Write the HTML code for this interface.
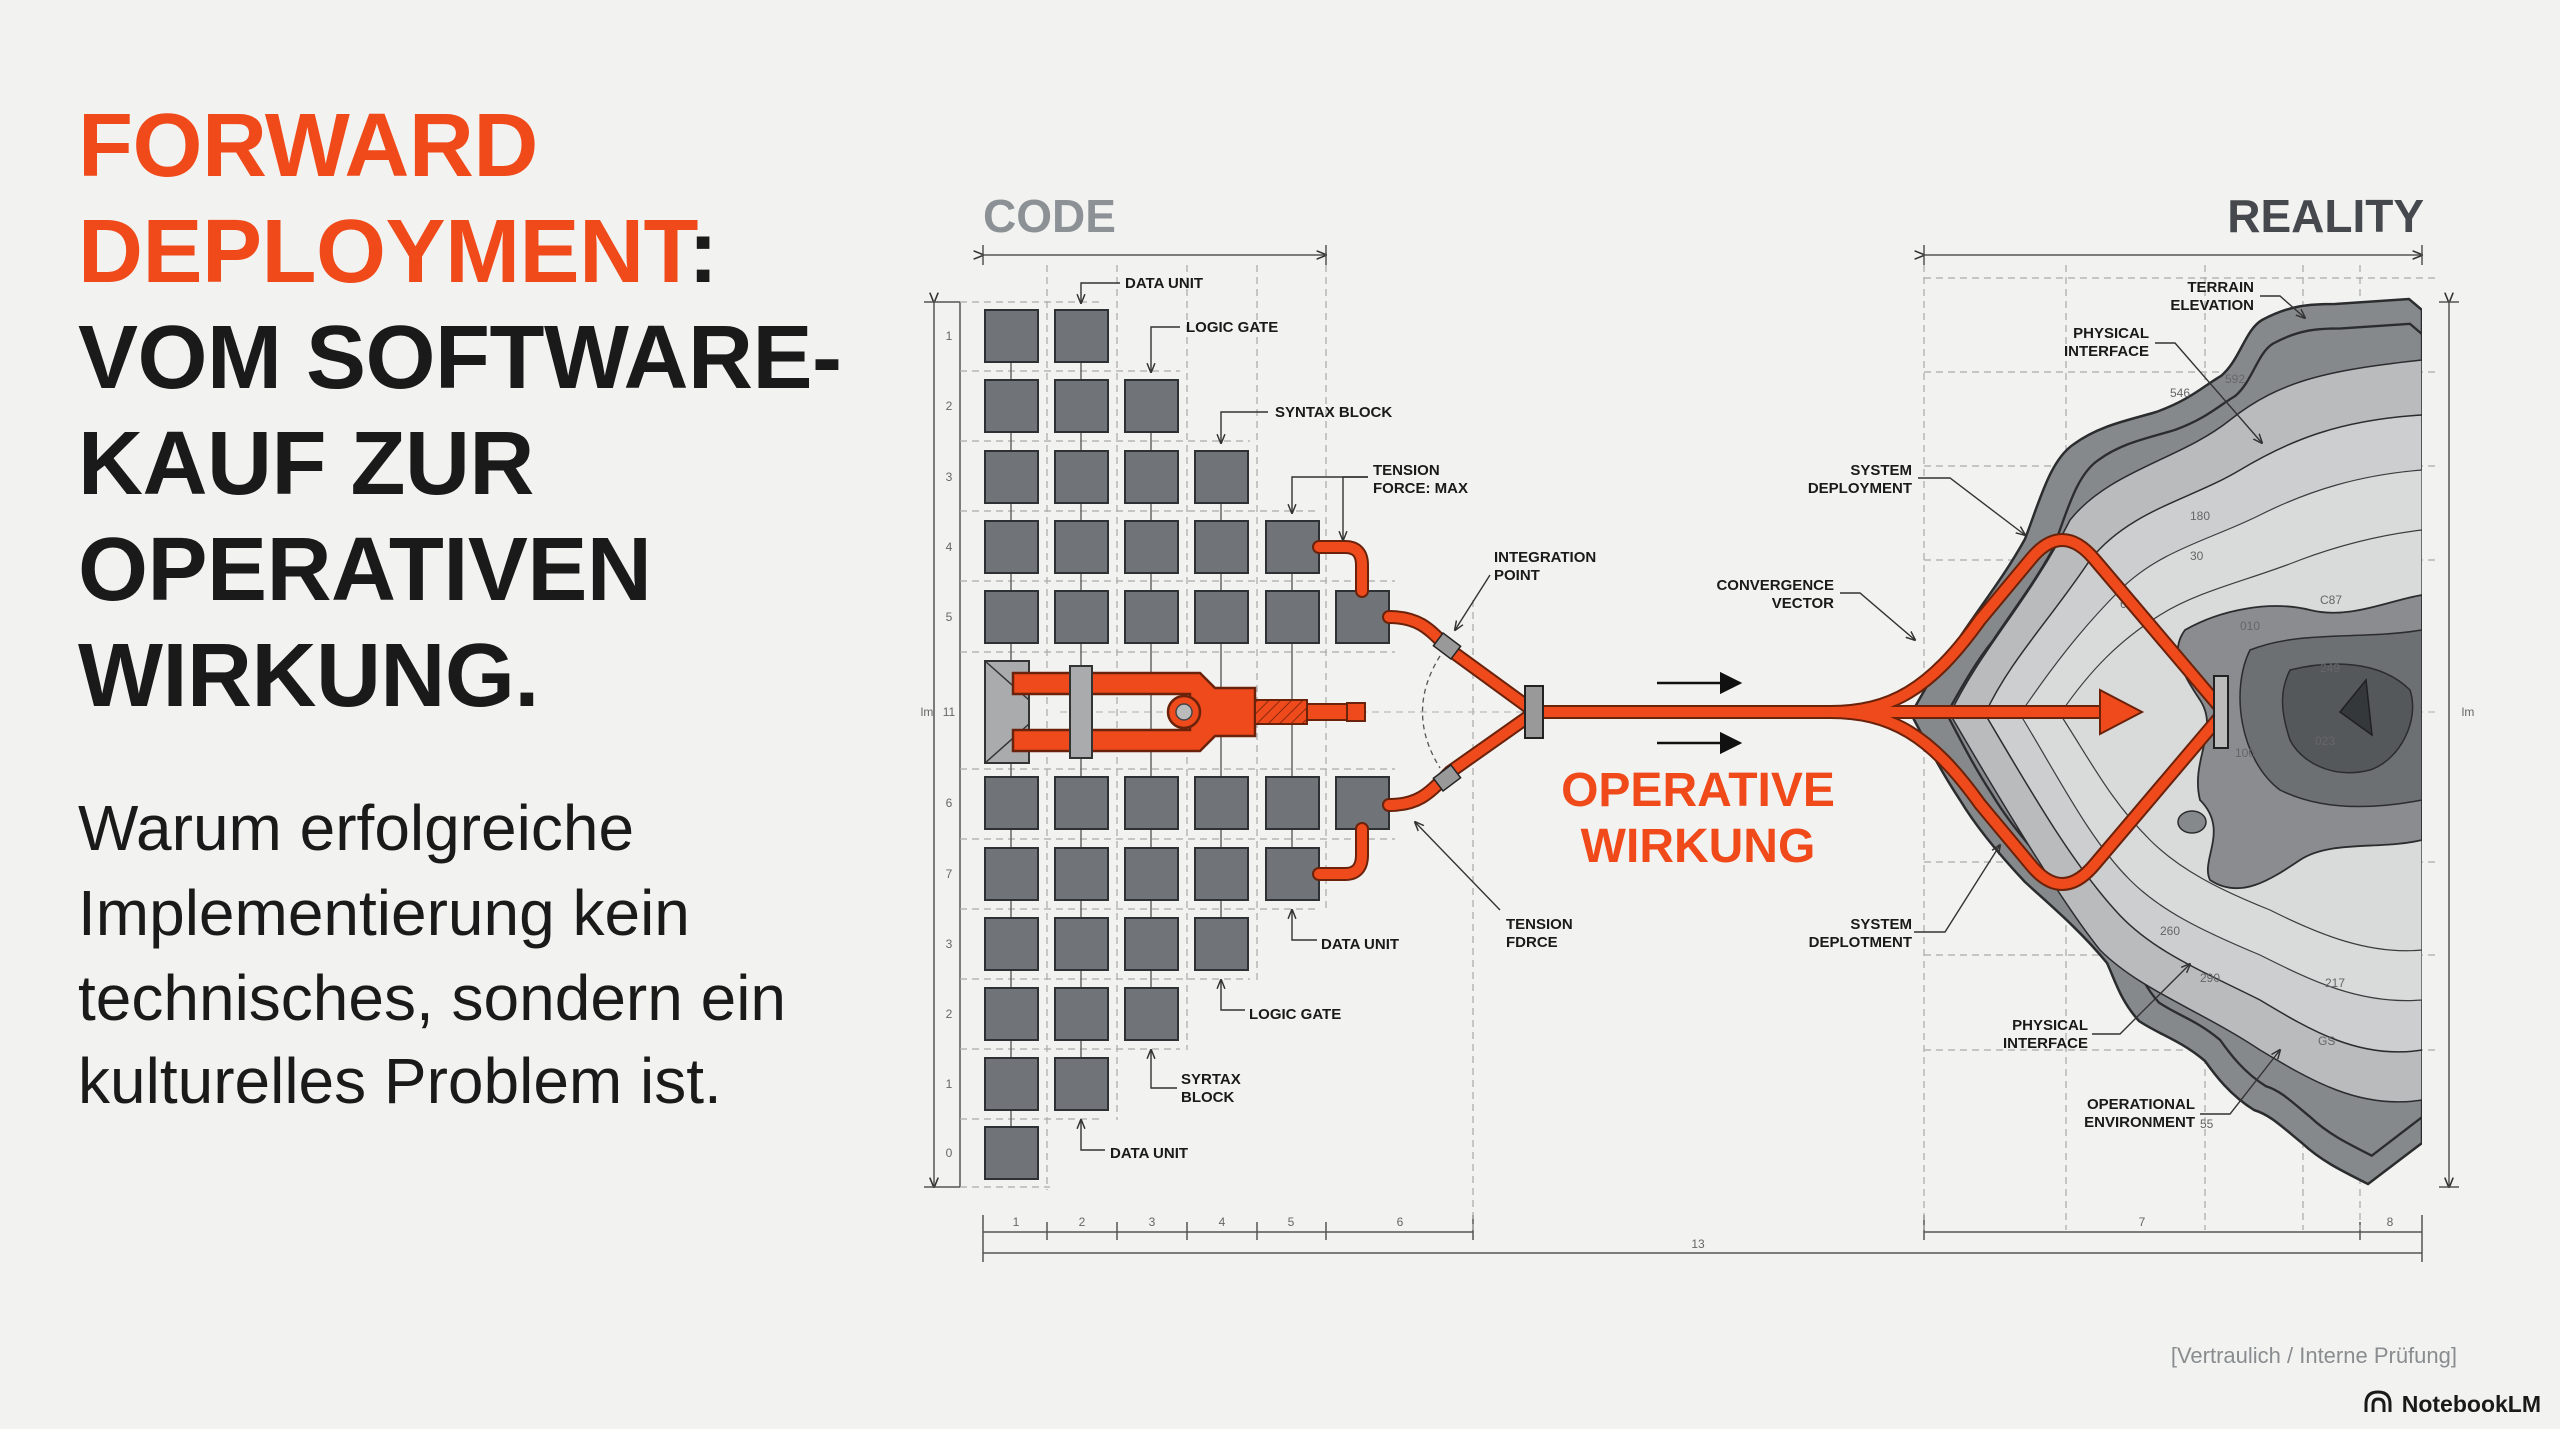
<!DOCTYPE html>
<html><head><meta charset="utf-8"><style>
html,body{margin:0;padding:0;background:#f2f2f1;}
svg{display:block}
.t{font-family:"Liberation Sans",sans-serif;font-weight:bold;}
.lb{font-family:"Liberation Sans",sans-serif;font-weight:bold;font-size:15px;fill:#1a1a1a;}
.sm{font-family:"Liberation Sans",sans-serif;font-size:12px;fill:#666;}
</style></head><body>
<svg width="2560" height="1429" viewBox="0 0 2560 1429" xmlns="http://www.w3.org/2000/svg">
<defs>
<marker id="ah" viewBox="0 0 10 10" refX="9" refY="5" markerWidth="7" markerHeight="7" orient="auto"><path d="M0,1 L10,5 L0,9" fill="none" stroke="#333" stroke-width="1.5"/></marker>
<marker id="bh" viewBox="0 0 10 10" refX="9" refY="5" markerWidth="9" markerHeight="9" orient="auto"><path d="M0,0 L10,5 L0,10 z" fill="#111"/></marker>
<clipPath id="tc"><rect x="1800" y="250" width="622" height="1000"/></clipPath>
<pattern id="hatch" width="8" height="8" patternUnits="userSpaceOnUse" patternTransform="rotate(45)"><rect width="8" height="8" fill="#ee4a1c"/><line x1="0" y1="0" x2="0" y2="8" stroke="#8a2a0c" stroke-width="2"/></pattern>
</defs>
<rect width="2560" height="1429" fill="#f2f2f1"/>

<!-- Title -->
<g class="t" font-size="90" letter-spacing="-0.5">
<text x="78" y="176" fill="#f04a1a">FORWARD</text>
<text x="78" y="282" fill="#f04a1a">DEPLOYMENT<tspan fill="#1a1a1a">:</tspan></text>
<text x="78" y="388" fill="#1a1a1a">VOM SOFTWARE-</text>
<text x="78" y="494" fill="#1a1a1a">KAUF ZUR</text>
<text x="78" y="600" fill="#1a1a1a">OPERATIVEN</text>
<text x="78" y="706" fill="#1a1a1a">WIRKUNG.</text>
</g>
<g font-family="Liberation Sans, sans-serif" font-size="64" fill="#1a1a1a">
<text x="78" y="850">Warum erfolgreiche</text>
<text x="78" y="935">Implementierung kein</text>
<text x="78" y="1020">technisches, sondern ein</text>
<text x="78" y="1103">kulturelles Problem ist.</text>
</g>

<!-- Headers -->
<text x="983" y="232" class="t" font-size="46" fill="#8c9196">CODE</text>
<text x="2424" y="232" class="t" font-size="46" fill="#45494d" text-anchor="end">REALITY</text>

<!-- dimension lines -->
<g stroke="#555" stroke-width="1.5" fill="none">
<line x1="983" y1="255" x2="1326" y2="255" marker-end="url(#ah)" marker-start="url(#ah)"/>
<line x1="983" y1="245" x2="983" y2="265"/><line x1="1326" y1="245" x2="1326" y2="265"/>
<line x1="1924" y1="255" x2="2422" y2="255" marker-end="url(#ah)" marker-start="url(#ah)"/>
<line x1="1924" y1="245" x2="1924" y2="265"/><line x1="2422" y1="245" x2="2422" y2="265"/>
<line x1="934" y1="302" x2="934" y2="1187" marker-end="url(#ah)" marker-start="url(#ah)"/>
<line x1="924" y1="302" x2="960" y2="302"/><line x1="924" y1="1187" x2="960" y2="1187"/>
<line x1="960" y1="302" x2="960" y2="1187"/>
<line x1="2449" y1="302" x2="2449" y2="1187" marker-end="url(#ah)" marker-start="url(#ah)"/>
<line x1="2439" y1="302" x2="2459" y2="302"/><line x1="2439" y1="1187" x2="2459" y2="1187"/>
<line x1="983" y1="1232" x2="1473" y2="1232"/>
<line x1="1924" y1="1232" x2="2422" y2="1232"/>
<line x1="983" y1="1253" x2="2422" y2="1253"/>
</g>
<g stroke="#555" stroke-width="1.5">
<line x1="983" y1="1215" x2="983" y2="1262"/><line x1="1047" y1="1222" x2="1047" y2="1240"/><line x1="1117" y1="1222" x2="1117" y2="1240"/><line x1="1187" y1="1222" x2="1187" y2="1240"/><line x1="1257" y1="1222" x2="1257" y2="1240"/><line x1="1326" y1="1222" x2="1326" y2="1240"/><line x1="1473" y1="1215" x2="1473" y2="1240"/>
<line x1="1924" y1="1215" x2="1924" y2="1240"/><line x1="2360" y1="1222" x2="2360" y2="1240"/><line x1="2422" y1="1215" x2="2422" y2="1262"/>
</g>
<g class="sm" text-anchor="middle">
<text x="1016" y="1226">1</text><text x="1082" y="1226">2</text><text x="1152" y="1226">3</text><text x="1222" y="1226">4</text><text x="1291" y="1226">5</text><text x="1400" y="1226">6</text>
<text x="2142" y="1226">7</text><text x="2390" y="1226">8</text><text x="1698" y="1248">13</text>
<text x="949" y="340">1</text><text x="949" y="410">2</text><text x="949" y="481">3</text><text x="949" y="551">4</text><text x="949" y="621">5</text><text x="949" y="716">11</text><text x="927" y="716">lm</text>
<text x="949" y="807">6</text><text x="949" y="878">7</text><text x="949" y="948">3</text><text x="949" y="1018">2</text><text x="949" y="1088">1</text><text x="949" y="1157">0</text>
<text x="2468" y="716">lm</text>
</g>

<!-- dashed grid -->
<g stroke="#aaa" stroke-width="1.2" stroke-dasharray="7,5" fill="none">
<line x1="1047" y1="265" x2="1047" y2="1190"/><line x1="1117" y1="265" x2="1117" y2="1120"/><line x1="1187" y1="265" x2="1187" y2="1050"/><line x1="1257" y1="265" x2="1257" y2="980"/><line x1="1326" y1="265" x2="1326" y2="910"/><line x1="1473" y1="600" x2="1473" y2="1230"/>
<line x1="960" y1="302" x2="1100" y2="302"/><line x1="960" y1="371" x2="1180" y2="371"/><line x1="960" y1="441" x2="1250" y2="441"/><line x1="960" y1="511" x2="1320" y2="511"/><line x1="960" y1="581" x2="1395" y2="581"/><line x1="960" y1="652" x2="1395" y2="652"/>
<line x1="960" y1="769" x2="1395" y2="769"/><line x1="960" y1="839" x2="1395" y2="839"/><line x1="960" y1="909" x2="1320" y2="909"/><line x1="960" y1="979" x2="1250" y2="979"/><line x1="960" y1="1049" x2="1180" y2="1049"/><line x1="960" y1="1119" x2="1100" y2="1119"/><line x1="960" y1="1187" x2="1050" y2="1187"/>
<line x1="1924" y1="265" x2="1924" y2="1230"/><line x1="2066" y1="265" x2="2066" y2="1230"/><line x1="2205" y1="265" x2="2205" y2="1230"/><line x1="2303" y1="265" x2="2303" y2="1230"/><line x1="2360" y1="265" x2="2360" y2="1230"/>
<line x1="1924" y1="278" x2="2440" y2="278"/><line x1="1924" y1="372" x2="2440" y2="372"/><line x1="1924" y1="466" x2="2440" y2="466"/><line x1="1924" y1="560" x2="2440" y2="560"/><line x1="1924" y1="862" x2="2440" y2="862"/><line x1="1924" y1="955" x2="2440" y2="955"/><line x1="1924" y1="1050" x2="2440" y2="1050"/>
<line x1="1060" y1="712" x2="2440" y2="712" stroke="#bbb"/>
</g>

<!-- column connectors -->
<g stroke="#666" stroke-width="1.5">
<line x1="1011" y1="310" x2="1011" y2="1179"/><line x1="1081" y1="310" x2="1081" y2="1110"/><line x1="1151" y1="380" x2="1151" y2="1040"/><line x1="1221" y1="451" x2="1221" y2="970"/><line x1="1292" y1="521" x2="1292" y2="900"/>
</g>

<!-- squares -->
<g fill="#707478" stroke="#2e3134" stroke-width="2">
<rect x="985" y="310" width="53" height="52"/><rect x="1055" y="310" width="53" height="52"/>
<rect x="985" y="380" width="53" height="52"/><rect x="1055" y="380" width="53" height="52"/><rect x="1125" y="380" width="53" height="52"/>
<rect x="985" y="451" width="53" height="52"/><rect x="1055" y="451" width="53" height="52"/><rect x="1125" y="451" width="53" height="52"/><rect x="1195" y="451" width="53" height="52"/>
<rect x="985" y="521" width="53" height="52"/><rect x="1055" y="521" width="53" height="52"/><rect x="1125" y="521" width="53" height="52"/><rect x="1195" y="521" width="53" height="52"/><rect x="1266" y="521" width="53" height="52"/>
<rect x="985" y="591" width="53" height="52"/><rect x="1055" y="591" width="53" height="52"/><rect x="1125" y="591" width="53" height="52"/><rect x="1195" y="591" width="53" height="52"/><rect x="1266" y="591" width="53" height="52"/><rect x="1336" y="591" width="53" height="52"/>
<rect x="985" y="777" width="53" height="52"/><rect x="1055" y="777" width="53" height="52"/><rect x="1125" y="777" width="53" height="52"/><rect x="1195" y="777" width="53" height="52"/><rect x="1266" y="777" width="53" height="52"/><rect x="1336" y="777" width="53" height="52"/>
<rect x="985" y="848" width="53" height="52"/><rect x="1055" y="848" width="53" height="52"/><rect x="1125" y="848" width="53" height="52"/><rect x="1195" y="848" width="53" height="52"/><rect x="1266" y="848" width="53" height="52"/>
<rect x="985" y="918" width="53" height="52"/><rect x="1055" y="918" width="53" height="52"/><rect x="1125" y="918" width="53" height="52"/><rect x="1195" y="918" width="53" height="52"/>
<rect x="985" y="988" width="53" height="52"/><rect x="1055" y="988" width="53" height="52"/><rect x="1125" y="988" width="53" height="52"/>
<rect x="985" y="1058" width="53" height="52"/><rect x="1055" y="1058" width="53" height="52"/>
<rect x="985" y="1127" width="53" height="52"/>
</g>

<!-- terrain -->
<g clip-path="url(#tc)">
<g id="terr">
<path d="M1911,714 C1930,680 1945,655 1960,637 C1985,600 2005,575 2025,539 C2040,500 2050,460 2074,444 C2100,425 2130,420 2156,412 C2190,400 2205,385 2221,376 C2240,360 2245,330 2262,320 C2290,305 2310,304 2335,304 L2409,299 L2422,310 L2422,1143 L2368,1184 C2340,1170 2320,1160 2302,1143 C2280,1125 2270,1115 2254,1110 C2230,1095 2215,1075 2205,1061 C2180,1040 2160,1035 2139,1021 C2120,1000 2115,980 2107,963 C2080,930 2050,905 2025,882 C1995,850 1975,825 1960,800 C1940,770 1925,740 1911,714 Z" fill="#86898c" stroke="#2a2c2e" stroke-width="2.5"/>
</g>
<use href="#terr" transform="translate(2422,712) scale(0.93) translate(-2422,-712)" fill="#a3a5a7"/>
<g fill="none" stroke="#2a2c2e" stroke-width="1.5">
<use href="#terr" transform="translate(2422,712) scale(0.93,0.94) translate(-2422,-712)"/>
</g>
<path d="M1950,714 C1980,650 2030,600 2070,520 C2110,470 2180,460 2230,420 C2280,380 2330,370 2422,360 L2422,1100 C2360,1110 2310,1080 2260,1050 C2200,1010 2140,990 2100,950 C2060,900 2000,800 1950,714 Z" fill="#b9bbbc" stroke="#2a2c2e" stroke-width="1.5"/>
<path d="M1985,714 C2010,660 2050,620 2090,560 C2130,510 2190,500 2240,470 C2290,440 2340,420 2422,415 L2422,1050 C2360,1060 2310,1030 2260,1000 C2200,970 2150,950 2115,910 C2070,860 2030,790 1985,714 Z" fill="#cdcecf" stroke="#2a2c2e" stroke-width="1.5"/>
<path d="M2020,714 C2050,670 2080,630 2120,590 C2160,550 2210,540 2260,515 C2310,490 2360,475 2422,470 L2422,1000 C2360,1005 2310,980 2260,955 C2200,930 2160,910 2130,880 C2090,840 2060,780 2020,714 Z" fill="#d9dada" stroke="#3a3c3e" stroke-width="1.2"/>
<path d="M2060,714 C2090,670 2120,640 2160,615 C2200,590 2250,580 2300,560 C2340,545 2380,535 2422,530 L2422,950 C2370,955 2320,935 2270,910 C2220,890 2180,870 2150,840 C2110,800 2090,760 2060,714 Z" fill="none" stroke="#3a3c3e" stroke-width="1.2"/>
<path d="M2185,630 C2220,610 2270,600 2310,610 C2350,620 2390,600 2422,595 L2422,840 C2380,850 2330,840 2300,860 C2270,880 2240,900 2210,880 C2200,860 2230,830 2200,800 C2190,760 2220,730 2200,700 C2180,670 2170,650 2185,630 Z" fill="#8a8c8f" stroke="#2a2c2e" stroke-width="1.8"/>
<path d="M2250,650 C2300,630 2360,640 2422,630 L2422,800 C2370,810 2320,810 2280,790 C2240,760 2230,690 2250,650 Z" fill="#6d7073" stroke="#2a2c2e" stroke-width="1.5"/>
<path d="M2290,670 C2330,660 2380,660 2410,690 C2420,720 2400,760 2370,770 C2330,780 2300,760 2290,740 C2280,710 2280,690 2290,670 Z" fill="#55585b" stroke="#2a2c2e" stroke-width="1.5"/>
<path d="M2340,712 L2366,680 L2372,735 Z" fill="#35383a" stroke="#1f2022" stroke-width="1.5"/>
<ellipse cx="2192" cy="822" rx="14" ry="11" fill="#86898c" stroke="#2a2c2e" stroke-width="1.5"/>
</g>
<g class="sm" font-size="11" fill="#444">
<text x="2170" y="397">546</text><text x="2225" y="383">592</text><text x="2190" y="520">180</text><text x="2190" y="560">30</text><text x="2120" y="608">640</text><text x="2240" y="630">010</text><text x="2320" y="604">C87</text><text x="2320" y="672">249</text><text x="2315" y="745">023</text><text x="2235" y="757">100</text><text x="2160" y="935">260</text><text x="2200" y="982">290</text><text x="2325" y="987">217</text><text x="2318" y="1045">GS</text><text x="2200" y="1128">55</text>
</g>

<!-- orange lines: dark underlay -->
<g fill="none" stroke="#6a220a" stroke-linecap="round" stroke-linejoin="round" stroke-width="14">
<path d="M1319,547 H1345 Q1362,547 1362,565 V591"/>
<path d="M1389,617 C1420,617 1430,630 1450,650 L1535,712"/>
<path d="M1389,805 C1420,805 1430,792 1450,772 L1535,712"/>
<path d="M1362,829 V855 Q1362,874 1345,874 H1319"/>
<path d="M1535,712 H2110"/>
<path d="M1830,712 C1890,712 1930,690 1980,620 L2030,560 Q2062,520 2095,560 L2218,705"/>
<path d="M1830,712 C1890,712 1930,734 1980,804 L2030,864 Q2062,904 2095,864 L2218,719"/>
</g>
<g fill="none" stroke="#ee4a1c" stroke-linecap="round" stroke-linejoin="round" stroke-width="10">
<path d="M1319,547 H1345 Q1362,547 1362,565 V591"/>
<path d="M1389,617 C1420,617 1430,630 1450,650 L1535,712"/>
<path d="M1389,805 C1420,805 1430,792 1450,772 L1535,712"/>
<path d="M1362,829 V855 Q1362,874 1345,874 H1319"/>
<path d="M1535,712 H2110"/>
<path d="M1830,712 C1890,712 1930,690 1980,620 L2030,560 Q2062,520 2095,560 L2218,705"/>
<path d="M1830,712 C1890,712 1930,734 1980,804 L2030,864 Q2062,904 2095,864 L2218,719"/>
</g>
<polygon points="2100,690 2142,712 2100,734" fill="#ee4a1c" stroke="#6a220a" stroke-width="2"/>
<rect x="2214" y="676" width="14" height="72" fill="#bbb" stroke="#222" stroke-width="2"/>
<!-- sleeves -->
<rect x="1436" y="638" width="22" height="16" fill="#999" stroke="#222" stroke-width="1.5" transform="rotate(37 1447 646)"/>
<rect x="1436" y="770" width="22" height="16" fill="#999" stroke="#222" stroke-width="1.5" transform="rotate(-37 1447 778)"/>
<path d="M1440,656 Q1405,712 1440,768" fill="none" stroke="#555" stroke-width="1.3" stroke-dasharray="5,4"/>

<!-- gripper -->
<rect x="985" y="661" width="44" height="102" fill="#a9abad" stroke="#333" stroke-width="2"/>
<path d="M985,661 L1029,700 M985,763 L1029,724" stroke="#333" stroke-width="1.5"/>
<path d="M1013,673 H1200 L1215,688 H1255 V736 H1215 L1200,751 H1013 V730 H1190 V694 H1013 Z" fill="#ee4a1c" stroke="#6a220a" stroke-width="2.5"/>
<rect x="1070" y="666" width="22" height="92" fill="#a9abad" stroke="#333" stroke-width="2"/>
<circle cx="1184" cy="712" r="16" fill="#ee4a1c" stroke="#6a220a" stroke-width="2.5"/>
<circle cx="1184" cy="712" r="8" fill="#bbb" stroke="#444" stroke-width="1.5"/>
<rect x="1255" y="700" width="52" height="24" fill="url(#hatch)" stroke="#6a220a" stroke-width="2"/>
<rect x="1307" y="704" width="40" height="16" fill="#ee4a1c" stroke="#6a220a" stroke-width="2"/>
<rect x="1347" y="703" width="18" height="18" fill="#ee4a1c" stroke="#6a220a" stroke-width="2"/>
<rect x="1525" y="686" width="18" height="52" fill="#999" stroke="#222" stroke-width="2"/>

<!-- black arrows -->
<g stroke="#111" stroke-width="2.5"><line x1="1657" y1="683" x2="1740" y2="683" marker-end="url(#bh)"/><line x1="1657" y1="743" x2="1740" y2="743" marker-end="url(#bh)"/></g>
<g class="t" font-size="48" fill="#f04a1a" text-anchor="middle"><text x="1698" y="806">OPERATIVE</text><text x="1698" y="862">WIRKUNG</text></g>

<!-- leaders -->
<g fill="none" stroke="#333" stroke-width="1.4">
<path d="M1120,283 H1081 V303" marker-end="url(#ah)"/>
<path d="M1180,327 H1151 V372" marker-end="url(#ah)"/>
<path d="M1268,412 H1221 V443" marker-end="url(#ah)"/>
<path d="M1368,477 H1292 V513" marker-end="url(#ah)"/>
<path d="M1368,477 H1343 V540" marker-end="url(#ah)"/>
<path d="M1490,575 L1455,630" marker-end="url(#ah)"/>
<path d="M1500,910 L1415,822" marker-end="url(#ah)"/>
<path d="M1317,940 H1292 V910" marker-end="url(#ah)"/>
<path d="M1245,1010 H1221 V980" marker-end="url(#ah)"/>
<path d="M1177,1088 H1151 V1050" marker-end="url(#ah)"/>
<path d="M1105,1150 H1081 V1120" marker-end="url(#ah)"/>
<path d="M1840,593 H1860 L1915,640" marker-end="url(#ah)"/>
<path d="M1918,478 H1950 L2025,535" marker-end="url(#ah)"/>
<path d="M1914,932 H1945 L2000,845" marker-end="url(#ah)"/>
<path d="M2260,296 H2280 L2305,318" marker-end="url(#ah)"/>
<path d="M2155,343 H2175 L2262,443" marker-end="url(#ah)"/>
<path d="M2092,1034 H2120 L2190,964" marker-end="url(#ah)"/>
<path d="M2200,1114 H2230 L2280,1050" marker-end="url(#ah)"/>
</g>

<!-- labels -->
<g class="lb">
<text x="1125" y="288">DATA UNIT</text>
<text x="1186" y="332">LOGIC GATE</text>
<text x="1275" y="417">SYNTAX BLOCK</text>
<text x="1373" y="475">TENSION</text><text x="1373" y="493">FORCE: MAX</text>
<text x="1494" y="562">INTEGRATION</text><text x="1494" y="580">POINT</text>
<text x="1506" y="929">TENSION</text><text x="1506" y="947">FDRCE</text>
<text x="1321" y="949">DATA UNIT</text>
<text x="1249" y="1019">LOGIC GATE</text>
<text x="1181" y="1084">SYRTAX</text><text x="1181" y="1102">BLOCK</text>
<text x="1110" y="1158">DATA UNIT</text>
</g>
<g class="lb" text-anchor="end">
<text x="1834" y="590">CONVERGENCE</text><text x="1834" y="608">VECTOR</text>
<text x="1912" y="475">SYSTEM</text><text x="1912" y="493">DEPLOYMENT</text>
<text x="1912" y="929">SYSTEM</text><text x="1912" y="947">DEPLOTMENT</text>
<text x="2254" y="292">TERRAIN</text><text x="2254" y="310">ELEVATION</text>
<text x="2149" y="338">PHYSICAL</text><text x="2149" y="356">INTERFACE</text>
<text x="2088" y="1030">PHYSICAL</text><text x="2088" y="1048">INTERFACE</text>
<text x="2195" y="1109">OPERATIONAL</text><text x="2195" y="1127">ENVIRONMENT</text>
</g>

<!-- footer -->
<text x="2457" y="1363" font-family="Liberation Sans, sans-serif" font-size="22" fill="#8a8d90" text-anchor="end">[Vertraulich / Interne Prüfung]</text>
<g fill="none" stroke="#1a1a1a" stroke-width="3"><path d="M2366,1412 V1404 Q2366,1392 2378,1392 Q2390,1392 2390,1404 V1412"/><path d="M2373,1412 V1405 Q2373,1399 2378,1399 Q2384,1399 2384,1405 V1412"/></g>
<text x="2541" y="1412" font-family="Liberation Sans, sans-serif" font-weight="bold" font-size="23" fill="#1a1a1a" text-anchor="end">NotebookLM</text>
</svg>
</body></html>
